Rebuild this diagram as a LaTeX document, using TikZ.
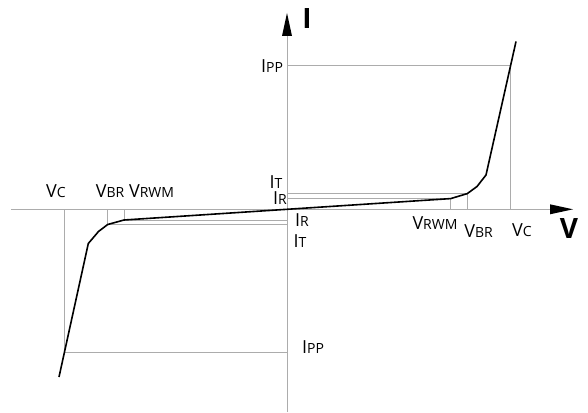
\documentclass[tikz,border=0pt]{standalone}
\usepackage{fontspec}
\setmainfont{Open Sans}
\newcommand\symlab[2]{#1{\fontsize{14}{14}\selectfont #2}}
\begin{document}
\begin{tikzpicture}[x=1pt,y=-1pt,
  guide/.style={draw=gray!65, line width=0.8pt},
  curve/.style={draw=black, line width=1.6pt, line join=round},
  tip/.style={fill=black, draw=none},
  lbl/.style={inner sep=0pt, font=\fontsize{18}{18}\selectfont},
  axlbl/.style={inner sep=0pt, font=\fontsize{28}{28}\selectfont\bfseries}]
\useasboundingbox (0,0) rectangle (588,412);
% key coordinates
\coordinate (O) at (287,209.3);
\coordinate (xs) at (11,209.3);
\coordinate (xe) at (552,209.3);
\coordinate (ys) at (287,412);
\coordinate (ye) at (287,34);
\coordinate (rW) at (450.7,198.6);
\coordinate (rB) at (467.3,193.6);
\coordinate (r1) at (477,186.5);
\coordinate (r2) at (486,175);
\coordinate (rP) at (510.5,65.7);
\coordinate (rE) at (516,41.5);
\coordinate (lW) at (124,220);
\coordinate (lB) at (107.7,224.5);
\coordinate (l1) at (98.5,231.5);
\coordinate (l2) at (88.3,243.5);
\coordinate (lP) at (64.3,352.5);
\coordinate (lE) at (59,377);
% axes
\draw[guide] (xs) -- (xe);
\draw[guide] (ys) -- (ye);
\fill[tip] (550,204.3) -- (573,209.3) -- (550,214.3) -- cycle;
\fill[tip] (282,36) -- (287,13) -- (292,36) -- cycle;
% guide lines, right
\draw[guide] (O |- rP) -- (rP);
\draw[guide] (rP) -- (rP |- O);
\draw[guide] (O |- rB) -- (rB) -- (rB |- O);
\draw[guide] (O |- rW) -- (rW) -- (rW |- O);
% guide lines, left
\draw[guide] (O |- lP) -- (lP);
\draw[guide] (lP) -- (lP |- O);
\draw[guide] (O |- lB) -- (lB) -- (lB |- O);
\draw[guide] (O |- lW) -- (lW) -- (lW |- O);
% characteristic
\draw[curve] (lE) -- (l2) -- (l1) -- (lB) -- (lW) -- (O) -- (rW) -- (rB) -- (r1) -- (r2) -- (rE);
% labels
\node[axlbl] (Ilab) at (307,19) {I};
\node[axlbl] (Vlab) at (569,229) {V};
\node[lbl] (ippT) at (272,66) {\symlab{I}{PP}};
\node[lbl] (ippB) at (313,347) {\symlab{I}{PP}};
\node[lbl] (itL) at (276,182.5) {\symlab{I}{T}};
\node[lbl] (irL) at (280,198.5) {\symlab{I}{R}};
\node[lbl] (irR) at (302,220) {\symlab{I}{R}};
\node[lbl] (itR) at (300,241.5) {\symlab{I}{T}};
\node[lbl] (vcL) at (56,191) {\symlab{V}{C}};
\node[lbl] (vbwL) at (135,191) {\symlab{V}{BR} \symlab{V}{RWM}};
\node[lbl] (vrwmR) at (435,223.5) {\symlab{V}{RWM}};
\node[lbl] (vbrR) at (478.5,231.5) {\symlab{V}{BR}};
\node[lbl] (vcR) at (522,230) {\symlab{V}{C}};
\end{tikzpicture}
\end{document}
